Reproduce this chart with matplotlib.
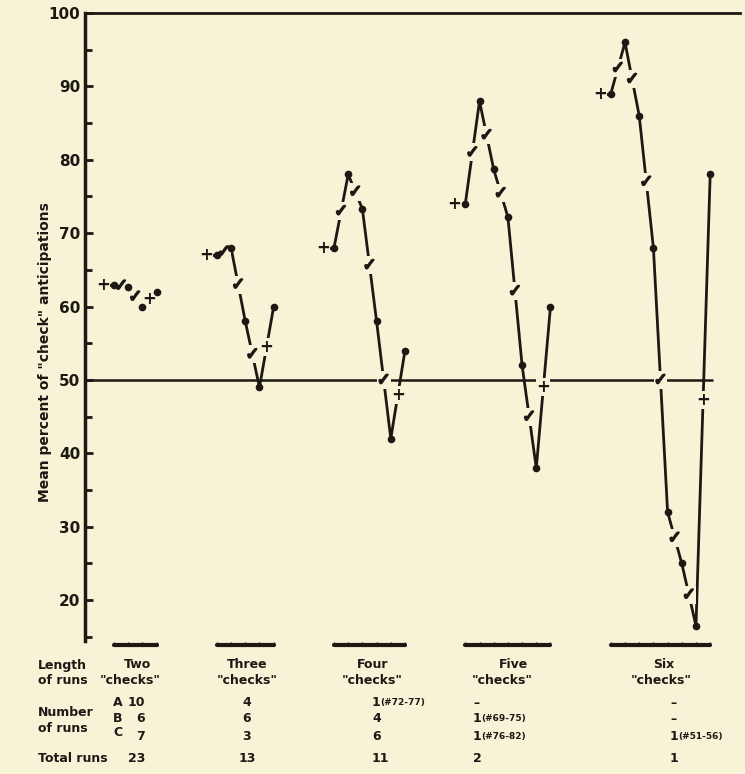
import matplotlib
matplotlib.use("Agg")
import matplotlib.pyplot as plt
import matplotlib.patheffects as pe
import numpy as np

# mean percent of "check" anticipations after each trial, one list per run length
groups = ["Two", "Three", "Four", "Five", "Six"]
two_vals = [63, 62.7, 60, 62]
three_vals = [67, 68, 58, 49, 60]
four_vals = [68, 78, 73.3, 58, 42, 54]
five_vals = [74, 88, 78.7, 72.2, 52, 38, 60]
six_vals = [89, 96, 86, 68, 32, 25, 16.5, 78]
series = [two_vals, three_vals, four_vals, five_vals, six_vals]

# table under the chart
num_a = ["10", "4", "1", "\u2013", "\u2013"]
num_b = ["6", "6", "4", "1", "\u2013"]
num_c = ["7", "3", "6", "1", "1"]
notes_a = ["", "", "(#72-77)", "", ""]
notes_b = ["", "", "", "(#69-75)", ""]
notes_c = ["", "", "", "(#76-82)", "(#51-56)"]
totals = ["23", "13", "11", "2", "1"]

BG = "#f8f2d6"
INK = "#1c1914"
W, H = 745, 774
GAP = 4.25  # empty trial slots between groups

fig = plt.figure(figsize=(W / 100, H / 100), dpi=100, facecolor=BG)
ax = fig.add_axes([85 / W, 1 - 641 / H, (740 - 85) / W, (641 - 13) / H])
ax.set_facecolor(BG)


def ftext(x, y, s, **kw):
    kw.setdefault("fontsize", 9)
    kw.setdefault("fontweight", "bold")
    kw.setdefault("color", INK)
    kw.setdefault("va", "center")
    fig.text(x / W, 1 - y / H, s, **kw)


mark_kw = dict(ha="center", va="center", color=INK, fontweight="bold", zorder=4,
               bbox=dict(boxstyle="square,pad=0.0", fc=BG, ec="none"))
thick = [pe.withStroke(linewidth=1.3, foreground=INK)]

start = 0
spans = []
for vals in series:
    x = np.arange(len(vals)) + start
    # lead-in plus before the first trial
    ax.plot([x[0] - 0.7, x[0]], [vals[0], vals[0]], color=INK, lw=2, zorder=2)
    ax.text(x[0] - 0.75, vals[0], "+", fontsize=12, **mark_kw)
    ax.plot(x, vals, color=INK, lw=2, zorder=2)
    ax.plot(x, vals, "o", color=INK, ms=4.5, zorder=5)
    for i in range(len(vals) - 1):
        xm = (x[i] + x[i + 1]) / 2
        ym = (vals[i] + vals[i + 1]) / 2
        if i == len(vals) - 2:
            ax.text(xm, ym, "+", fontsize=12, **mark_kw)
        else:
            ax.text(xm, ym, "\u2713", fontsize=12, path_effects=thick, **mark_kw)
    spans.append((x[0], x[-1]))
    start = x[-1] + GAP

# brackets under each group
for a, b in spans:
    ax.plot([a, b], [13.9, 13.9], color=INK, lw=3, clip_on=False, solid_capstyle="round")
    ticks = np.arange(a, b + 0.01)
    ax.plot(ticks, np.full(len(ticks), 14.05), "|", color=INK, ms=3, clip_on=False)

ax.hlines(50, -2.1, spans[-1][1] + 0.2, color=INK, lw=1.8, zorder=1)

ax.set_xlim(-2.04, 44.1)
ax.set_ylim(14.44, 100)
ax.set_yticks(range(20, 101, 10))
ax.set_yticks(range(15, 100, 10), minor=True)
ax.tick_params(axis="y", which="both", direction="in", width=2, colors=INK,
               labelsize=11)
ax.tick_params(axis="y", which="major", length=6)
ax.tick_params(axis="y", which="minor", length=5)
for lab in ax.get_yticklabels():
    lab.set_fontweight("bold")
ax.set_xticks([])
for side in ["right", "bottom"]:
    ax.spines[side].set_visible(False)
ax.spines["left"].set_linewidth(2.5)
ax.spines["top"].set_linewidth(2)
ax.spines["left"].set_color(INK)
ax.spines["top"].set_color(INK)

ftext(45, 352, 'Mean percent of "check" anticipations', rotation=90, ha="center",
      fontsize=10)

# table text
label_x = [137, 247, 373, 514, 664]
checks_x = [130, 247, 372, 502, 661]
ftext(38, 665, "Length", ha="left")
ftext(38, 680, "of runs", ha="left")
for g, lx, cx in zip(groups, label_x, checks_x):
    ftext(lx, 665, g, ha="center")
    ftext(cx, 680, '"checks"', ha="center")

ftext(38, 712, "Number", ha="left")
ftext(38, 729, "of runs", ha="left")
for lt, y in zip("ABC", [703, 718, 733]):
    ftext(118, y, lt, ha="center")

col_x = [145, 247, 372, 473, 670]
col_ha = ["right", "center", "left", "left", "left"]
for row, notes, y in [(num_a, notes_a, 703), (num_b, notes_b, 719), (num_c, notes_c, 736)]:
    for v, n, cx, ha in zip(row, notes, col_x, col_ha):
        ftext(cx, y, v, ha=ha)
        if n:
            ftext(cx + 8, y, n, ha="left", fontsize=6.5)

ftext(38, 758, "Total runs", ha="left")
for v, cx, ha in zip(totals, col_x, col_ha):
    ftext(cx, 758, v, ha=ha)

fig.savefig("out.png", dpi=100, facecolor=BG)
